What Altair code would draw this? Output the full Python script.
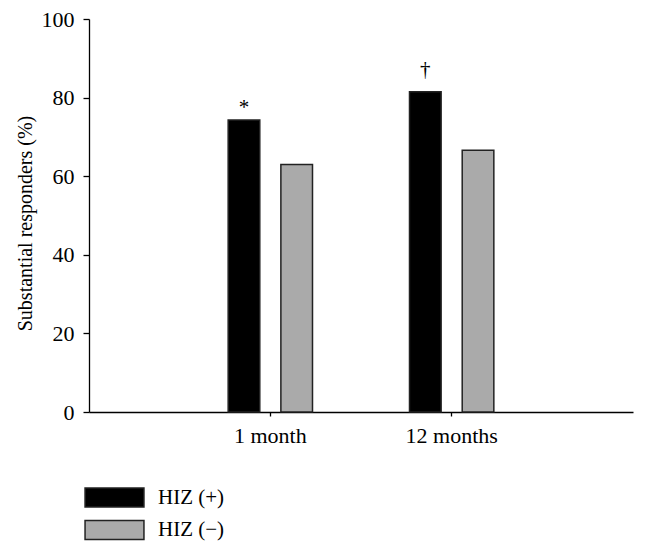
import altair as alt
import pandas as pd

categories = ["1 month", "12 months"]
groups = ["HIZ (+)", "HIZ (\u2212)"]
hiz_pos = [74.3, 81.5]
hiz_neg = [63.0, 66.6]
sig_marks = ["*", "\u2020"]

rows = []
for i, c in enumerate(categories):
    rows.append({"time": c, "group": groups[0], "value": hiz_pos[i], "sig": sig_marks[i]})
    rows.append({"time": c, "group": groups[1], "value": hiz_neg[i], "sig": ""})
df = pd.DataFrame(rows)

FONT = "Liberation Serif"

x_enc = alt.X("time:N", sort=categories,
              scale=alt.Scale(paddingInner=0, paddingOuter=0.5),
              axis=alt.Axis(title=None, labelAngle=0, labelFontSize=22, labelFont=FONT,
                            labelColor="black", tickSize=4, labelPadding=9,
                            domainColor="black", tickColor="black", domainWidth=1.3,
                            tickWidth=1.3, grid=False))
xoff = alt.XOffset("group:N", sort=groups,
                   scale=alt.Scale(paddingInner=0.4, paddingOuter=0.92))
y_enc = alt.Y("value:Q", scale=alt.Scale(domain=[0, 100]),
              axis=alt.Axis(title="Substantial responders (%)", values=[0, 20, 40, 60, 80, 100],
                            labelFontSize=22, labelFont=FONT, labelColor="black",
                            titleFont=FONT, titleFontSize=20, titleFontWeight="normal",
                            titleColor="black", titleX=-64, titleY=204, titleAngle=-90,
                            titleBaseline="middle", titleAlign="center",
                            tickSize=6, labelPadding=9, domainColor="black", tickColor="black",
                            domainWidth=1.3, tickWidth=1.3, grid=False))

bars = alt.Chart(df).mark_bar(stroke="#222222", strokeWidth=1.5).encode(
    x=x_enc, xOffset=xoff, y=y_enc,
    color=alt.Color("group:N", sort=groups,
                    scale=alt.Scale(domain=groups, range=["#000000", "#aaaaaa"]),
                    legend=alt.Legend(title=None, orient="none", legendX=15, legendY=468,
                                      symbolType="M-3.1,-1L3.1,-1L3.1,1L-3.1,1Z",
                                      symbolSize=361, symbolStrokeColor="#222222",
                                      symbolStrokeWidth=1.5, labelFont=FONT, labelFontSize=21,
                                      labelColor="black", labelOffset=33, rowPadding=7.5,
                                      padding=0, symbolOpacity=1)),
)

base_text = alt.Chart(df).encode(
    x=alt.X("time:N", sort=categories), xOffset=alt.XOffset("group:N", sort=groups),
    y="value:Q", text="sig:N")

star = base_text.transform_filter(alt.datum.sig == "*").mark_text(
    font=FONT, fontSize=21, color="black", baseline="alphabetic", dy=-6)
dagger = base_text.transform_filter(alt.datum.sig == "\u2020").mark_text(
    font=FONT, fontSize=21, color="black", baseline="alphabetic", dy=-16)

chart = alt.layer(bars, star, dagger).properties(
    width=544, height=393,
    autosize=alt.AutoSizeParams(type="none"),
    padding={"left": 81, "top": 11, "right": 7, "bottom": 135},
).configure(background="white", font=FONT).configure_view(stroke=None)

chart.save("out.html", embed_options={"renderer": "svg", "actions": False})
